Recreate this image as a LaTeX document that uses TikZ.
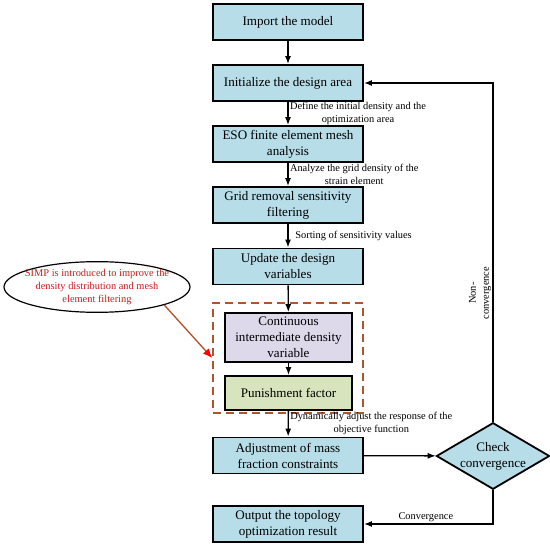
\documentclass[tikz,border=0pt]{standalone}
\usepackage{fontspec}
\setmainfont{Liberation Serif}
\usetikzlibrary{arrows.meta,shapes.geometric}
\definecolor{boxblue}{RGB}{183,221,232}
\definecolor{lavender}{RGB}{221,217,234}
\definecolor{punolive}{RGB}{215,228,189}
\definecolor{grpbrown}{RGB}{175,85,45}
\definecolor{simpred}{RGB}{200,30,30}
\begin{document}
\begin{tikzpicture}[x=0.75pt, y=-0.75pt, >={Latex[length=6pt,width=4.5pt]},
box/.style={draw, line width=1.35pt, fill=boxblue, minimum width=112.5pt,
  minimum height=27pt, inner sep=1pt, align=center,
  font=\fontsize{9.8}{12}\selectfont},
dia/.style={draw, line width=1.35pt, fill=boxblue, shape=diamond, aspect=1.7,
  minimum width=84pt, minimum height=49.5pt, inner sep=0pt, align=center,
  font=\fontsize{9.8}{12}\selectfont},
grp/.style={draw=grpbrown, line width=1.2pt, dash pattern=on 6pt off 3.75pt,
  minimum width=112.5pt, minimum height=82.5pt, inner sep=0pt},
ell/.style={draw, line width=0.9pt, shape=ellipse, minimum width=139.5pt,
  minimum height=38pt, inner xsep=-5pt, inner ysep=-1pt, align=center,
  text=simpred, font=\fontsize{7.8}{10}\selectfont},
lbl/.style={font=\fontsize{7.8}{9.7}\selectfont, align=center, inner sep=1pt},
arr/.style={line width=1pt}]
\useasboundingbox (0,0) rectangle (550,545);
\node[box] (imp)  at (288,22)    {Import the model};
\node[box] (init) at (288,83)    {Initialize the design area};
\node[box] (eso)  at (288,144)   {ESO finite element mesh\\analysis};
\node[box] (grid) at (288,205)   {Grid removal sensitivity\\filtering};
\node[box] (upd)  at (288,266.5) {Update the design\\variables};
\node[grp] (simpgrp) at (288,358) {};
\node[box, fill=lavender, minimum width=95.25pt, minimum height=36.75pt]
  (cont) at (288.5,337.5) {Continuous\\intermediate density\\variable};
\node[box, fill=punolive, minimum width=95.25pt, minimum height=25.5pt]
  (pun) at (288.5,393) {Punishment factor};
\node[box] (adj)  at (288,455.5) {Adjustment of mass\\fraction constraints};
\node[box] (out)  at (288,524)   {Output the topology\\optimization result};
\node[dia] (chk)  at (493,456)   {Check\\convergence};
\node[ell] (simp) at (97,287)
  {SIMP is introduced to improve the\\density distribution and mesh\\element filtering};
%
\draw[->, arr] (imp) -- (init);
\draw[->, arr] (init) -- node[lbl, right]
  {Define the initial density and the\\optimization area} (eso);
\draw[->, arr] (eso) -- node[lbl, right]
  {Analyze the grid density of the\\strain element} (grid);
\draw[->, arr] (grid) -- node[lbl, right, xshift=4pt]
  {Sorting of sensitivity values} (upd);
\draw[->, arr] (upd) -- (cont);
\draw[->, arr] (cont) -- (pun);
\draw[->, arr] (pun) -- node[lbl, right]
  {Dynamically adjust the response of the\\objective function} (adj);
\draw[->, arr] (adj) -- (chk);
\draw[->, arr] (chk.south) |- node[lbl, above, pos=0.76] {Convergence} (out);
\draw[->, arr] (chk.north) |- node[lbl, above, rotate=90, pos=0.19]
  {Non-\\convergence} (init);
\draw[-{Latex[length=7pt,width=6pt,color=red]}, arr, draw=grpbrown]
  (simp.-15) -- (simpgrp.west);
\end{tikzpicture}
\end{document}
